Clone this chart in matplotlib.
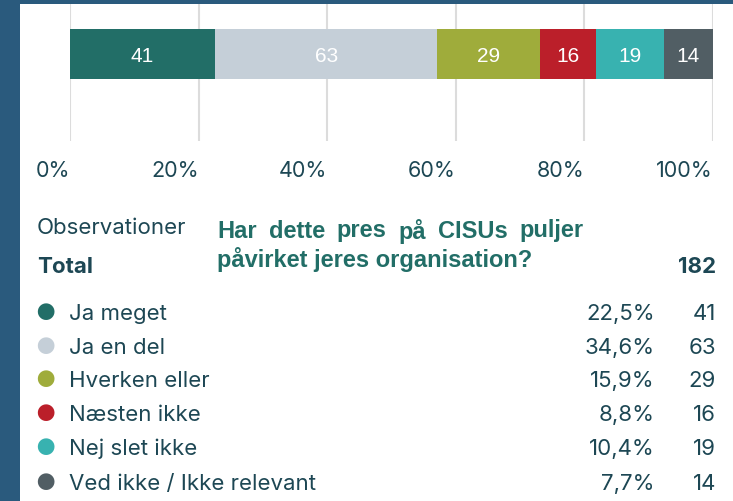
import matplotlib.pyplot as plt
from matplotlib.patches import Rectangle

plt.rcParams['font.family'] = ['Inter', 'DejaVu Sans']

# Data
categories = ['Ja meget', 'Ja en del', 'Hverken eller', 'Næsten ikke',
              'Nej slet ikke', 'Ved ikke / Ikke relevant']
counts = [41, 63, 29, 16, 19, 14]
colors = ['#226e67', '#c5cfd8', '#9fac3b', '#bb1f2a', '#38b2b0', '#515e64']
ticks = [0, 20, 40, 60, 80, 100]
tick_labels = ['0%', '20%', '40%', '60%', '80%', '100%']
title_lines = ['Har dette pres på CISUs puljer', 'påvirket jeres organisation?']

total = sum(counts)
shares = [c / total * 100 for c in counts]

W, H = 733, 502
fig = plt.figure(figsize=(W / 100, H / 100), dpi=100, facecolor='#2a5a7d')
# white panel
fig.patches.append(Rectangle((20 / W, 0), 1 - 20 / W, 1 - 5 / H,
                             transform=fig.transFigure, facecolor='white',
                             edgecolor='none', zorder=-5))

txt = '#1d4754'
fs = 16

def px(x, y):
    return x / W, 1 - y / H

# stacked bar axis
ax = fig.add_axes([70 / W, (H - 142) / H, (713 - 70) / W, 137 / H])
ax.set_facecolor('none')
ax.set_xlim(0, 100)
ax.set_ylim(137, 0)
left = 0
for s, c, col in zip(shares, counts, colors):
    ax.barh(50, s, left=left, height=50, color=col, zorder=2)
    ax.text(left + s / 2, 51, str(c), ha='center', va='center',
            color='white', fontsize=15, family='Liberation Sans', zorder=3)
    left += s
for t in ticks:
    ax.axvline(t, color='#dcdcdc', linewidth=1.5, zorder=1)
ax.set_yticks([])
ax.set_xticks(ticks)
ax.set_xticklabels(tick_labels, ha='right', fontsize=15.5, color=txt)
ax.tick_params(axis='x', length=0, pad=14)
for sp in ax.spines.values():
    sp.set_visible(False)

# text block
fig.text(*px(37, 228), 'Observationer', fontsize=fs, color=txt, va='center')

# title, first line justified between x=217 and x=584
renderer = fig.canvas.get_renderer()
tkw = dict(fontsize=17, color='#226e67', fontweight='bold',
           family='Liberation Sans', va='center')
words = title_lines[0].split()
items = [fig.text(0, 0, w, **tkw) for w in words]
widths = [it.get_window_extent(renderer).width for it in items]
gap = (584 - 217 - sum(widths)) / (len(words) - 1)
x = 217
for it, w in zip(items, widths):
    it.set_position(px(x, 231))
    x += w + gap
fig.text(*px(217, 259), title_lines[1], **tkw)

fig.text(*px(37, 267), 'Total', fontsize=fs, color=txt, va='center',
         fontweight='bold')
fig.text(*px(716, 267), str(total), fontsize=fs, color=txt, va='center',
         ha='right', fontweight='bold')

row_y = [314, 348, 381, 415, 449, 484]
for y, cat, c, s, col in zip(row_y, categories, counts, shares, colors):
    fig.text(*px(45, y), '●', fontsize=fs, color=col, va='center', ha='center')
    fig.text(*px(69, y), cat, fontsize=fs, color=txt, va='center')
    fig.text(*px(655, y), f'{s:.1f}%'.replace('.', ','), fontsize=fs,
             color=txt, va='center', ha='right')
    fig.text(*px(716, y), str(c), fontsize=fs, color=txt, va='center',
             ha='right')

fig.savefig('out.png', dpi=100, facecolor=fig.get_facecolor())
